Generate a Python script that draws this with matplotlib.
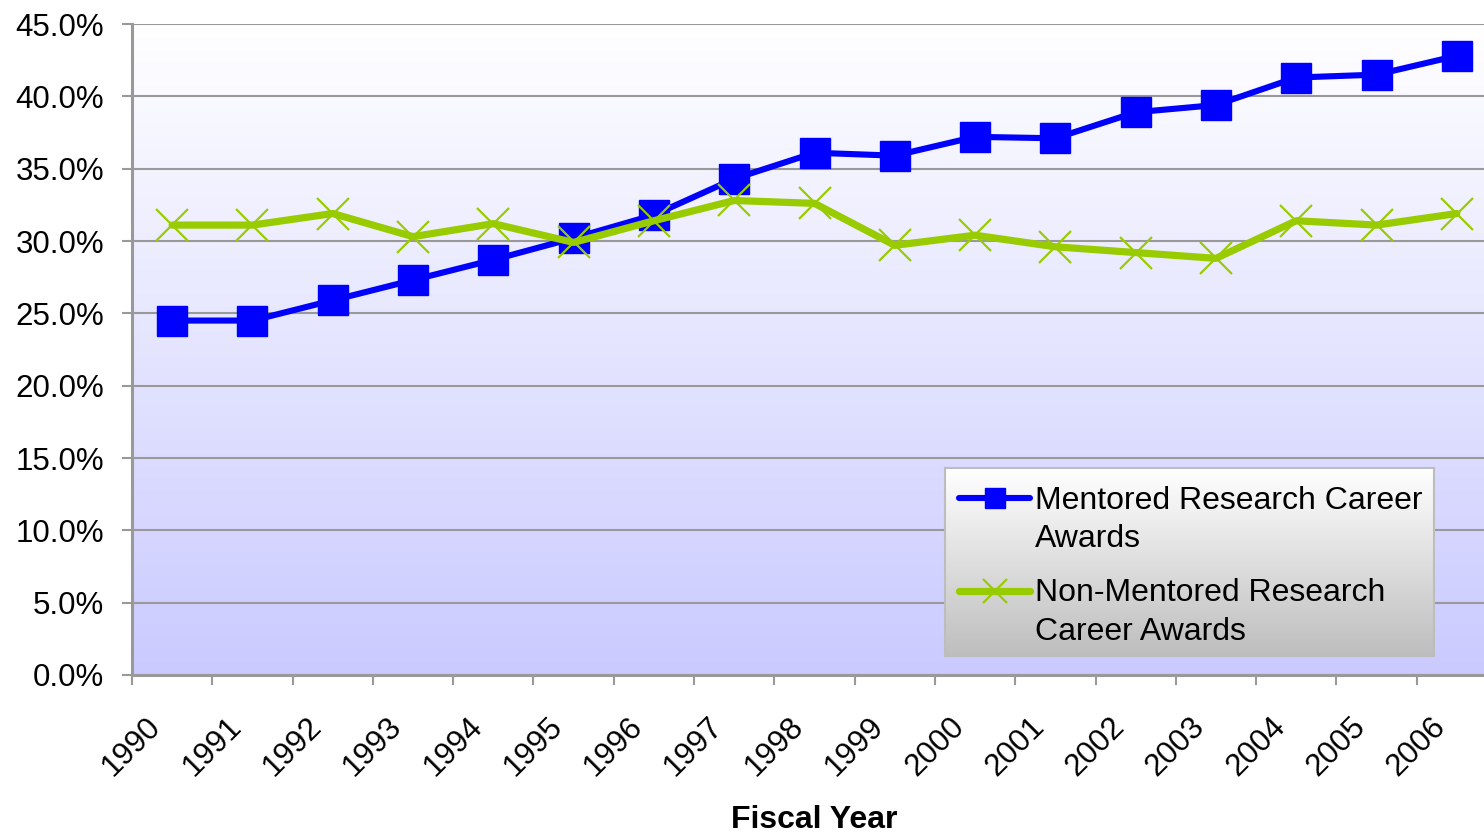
import numpy as np
import matplotlib
matplotlib.use("Agg")
import matplotlib.pyplot as plt
from matplotlib.lines import Line2D
from matplotlib.patches import Rectangle
from matplotlib.legend_handler import HandlerLine2D
from matplotlib.transforms import ScaledTranslation, Bbox
from matplotlib.colors import LinearSegmentedColormap

years = [str(y) for y in range(1990, 2007)]
mentored = [24.5, 24.5, 25.9, 27.3, 28.7, 30.2, 31.8, 34.3, 36.1, 35.9,
            37.2, 37.1, 38.9, 39.4, 41.3, 41.5, 42.8]
non_mentored = [31.1, 31.1, 31.9, 30.3, 31.2, 29.9, 31.4, 32.8, 32.6, 29.7,
                30.4, 29.6, 29.2, 28.8, 31.4, 31.1, 31.9]
series_names = ["Mentored Research Career\nAwards",
                "Non-Mentored Research\nCareer Awards"]
y_ticks = [0, 5, 10, 15, 20, 25, 30, 35, 40, 45]

plt.rcParams['font.family'] = ['Liberation Sans', 'DejaVu Sans']

W, H, DPI = 1484, 835, 100
fig = plt.figure(figsize=(W / DPI, H / DPI), dpi=DPI)
fig.patch.set_facecolor('white')
ax = fig.add_axes([132 / W, 1 - 675 / H, 1365 / W, 651 / H])

x = np.arange(len(years))
gray = '#999999'
tick_fs = 22.5

# background gradient
bg = LinearSegmentedColormap.from_list('bg', ['#CACAFF', '#FFFFFF'])
grad = np.linspace(0, 1, 256).reshape(-1, 1)
ax.imshow(grad, cmap=bg, aspect='auto', origin='lower', extent=[0, 1, 0, 1],
          transform=ax.transAxes, zorder=-2, interpolation='bicubic')

l1, = ax.plot(x, mentored, color='#0000FF', lw=4.4, marker='s', ms=21,
              mec='#0000FF', mfc='#0000FF', zorder=3,
              solid_joinstyle='round', solid_capstyle='round',
              label=series_names[0])
l2, = ax.plot(x, non_mentored, color='#99CC00', lw=5.2, marker='x', ms=23,
              mew=1.6, mec='#99CC00', zorder=4,
              solid_joinstyle='round', solid_capstyle='round',
              label=series_names[1])

ax.set_xlim(-0.5, len(years) - 0.5)
ax.set_ylim(0, 45)
ax.set_yticks(y_ticks)
ax.set_yticklabels([f"{v:.1f}%" for v in y_ticks])
ax.set_xticks(np.arange(-0.5, len(years), 1.0))
ax.set_xticklabels([])
ax.set_xticks(x, minor=True)
ax.set_xticklabels(years, minor=True, rotation=45, ha='right', va='top',
                   fontsize=tick_fs)
ax.tick_params(axis='x', which='major', length=7.2, width=1.5, color=gray,
               direction='out')
ax.tick_params(axis='x', which='minor', length=0, pad=26)
ax.tick_params(axis='y', length=7.2, width=1.5, color=gray, pad=13,
               labelsize=tick_fs)
offset = ScaledTranslation(-5 / DPI, 0, fig.dpi_scale_trans)
for lab in ax.get_xticklabels(minor=True):
    lab.set_transform(lab.get_transform() + offset)

ax.grid(axis='y', color=gray, lw=1.5)
ax.set_axisbelow(True)
for s in ['top', 'right']:
    ax.spines[s].set_visible(False)
for s in ['left', 'bottom']:
    ax.spines[s].set_color(gray)
    ax.spines[s].set_linewidth(2.2)

ax.set_xlabel("Fiscal Year", fontsize=23, fontweight='bold', labelpad=17)


class FirstLineHandler(HandlerLine2D):
    def __init__(self, shift, **kw):
        super().__init__(**kw)
        self.shift = shift

    def create_artists(self, legend, orig_handle, xdescent, ydescent,
                       width, height, fontsize, trans):
        return super().create_artists(legend, orig_handle, xdescent,
                                      ydescent - 2 * self.shift, width,
                                      height, fontsize, trans)


fs = 23
lsp = 1.38
shift = 0.5 * fs * lsp
h1 = Line2D([], [], color='#0000FF', lw=4.4, marker='s', ms=15,
            solid_capstyle='round')
h2 = Line2D([], [], color='#99CC00', lw=5.2, marker='x', ms=17, mew=1.6,
            solid_capstyle='round')
leg = ax.legend([h1, h2], series_names, loc='upper left',
                bbox_to_anchor=(941 / W, 1 - 468 / H),
                bbox_transform=fig.transFigure, borderaxespad=0,
                fontsize=fs, handlelength=2.25, handletextpad=0.15,
                borderpad=0.55, labelspacing=0.75, frameon=True,
                fancybox=False,
                handler_map={h1: FirstLineHandler(shift, numpoints=1),
                             h2: FirstLineHandler(shift, numpoints=1)})
for t in leg.get_texts():
    t.set_linespacing(lsp)
frame = leg.get_frame()
frame.set_facecolor('none')
frame.set_edgecolor('none')
leg.set_zorder(6)

fig.canvas.draw()
wb = leg.get_window_extent()
wb = Bbox.from_extents(wb.x0 + 4, wb.y0 + 9, wb.x1 - 6, wb.y1)
bb = wb.transformed(ax.transAxes.inverted())
lg = LinearSegmentedColormap.from_list('lg', ['#BEBEBE', '#FFFFFF'])
ax.imshow(grad, cmap=lg, aspect='auto', origin='lower',
          extent=[bb.x0, bb.x1, bb.y0, bb.y1], transform=ax.transAxes,
          zorder=5, interpolation='bicubic')
ax.add_patch(Rectangle((bb.x0, bb.y0), bb.width, bb.height,
                       transform=ax.transAxes, facecolor='none',
                       edgecolor='#BDBDBD', lw=1.5, zorder=5.5))
ax.set_xlim(-0.5, len(years) - 0.5)
ax.set_ylim(0, 45)

fig.savefig('out.png', dpi=DPI)
